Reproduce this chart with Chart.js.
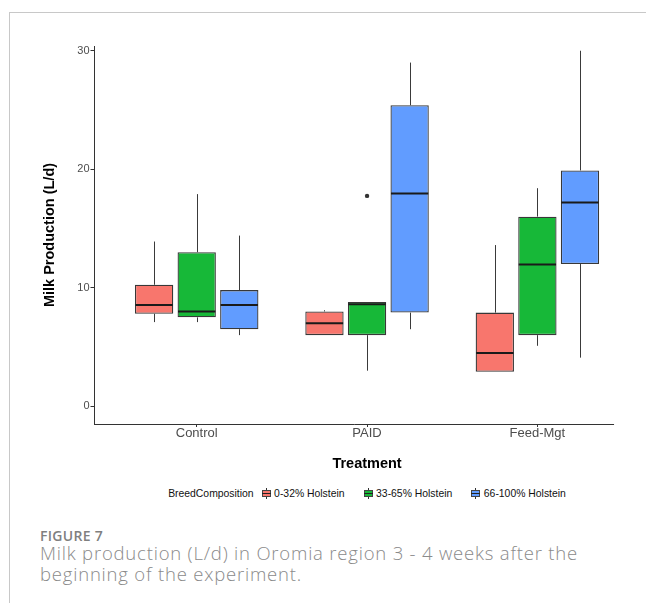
<!DOCTYPE html>
<html>
<head>
<meta charset="utf-8">
<script src="https://cdn.jsdelivr.net/npm/chart.js@4.4.1/dist/chart.umd.min.js"></script>
<style>
  body { margin: 0; background: #fff; }
  #wrap { position: relative; width: 646px; height: 603px; overflow: hidden; background: #fff; }
  #frame { position: absolute; left: 9px; top: 12px; width: 660px; height: 620px;
           border-top: 1px solid #c8c8c8; border-left: 1px solid #c8c8c8; }
  #chart { position: absolute; left: 0; top: 0; }
  #legend { position: absolute; left: 0; top: 486px; width: 734px; height: 14px;
            display: flex; justify-content: center; align-items: center;
            font: 10.4px "Liberation Sans", Arial, sans-serif; color: #111; white-space: nowrap; }
  #legend .ttl { margin-right: 8px; }
  #legend .key { position: relative; width: 9px; height: 11px; margin-right: 3.5px; }
  #legend .key .wh { position: absolute; left: 4px; top: 0; width: 1px; height: 11px; background: #333; }
  #legend .key .bx { position: absolute; left: 0; top: 2px; width: 9px; height: 7px; box-sizing: border-box;
                     border: 1px solid #444; }
  #legend .key .md { position: absolute; left: 0; top: 5px; width: 9px; height: 1px; background: #222; }
  #legend .lab { margin-right: 19px; }
  #legend .lab:last-child { margin-right: 0; }
  #fig { position: absolute; left: 40px; top: 529px; font: 600 14px/14px "Open Sans", sans-serif;
         color: #7f7f7f; letter-spacing: 0.3px; }
  #cap { position: absolute; left: 40px; top: 541.6px; font: 300 18.5px/21.5px "Open Sans", sans-serif;
         color: #8a8a8a; letter-spacing: 0.8px; white-space: nowrap; }
</style>
</head>
<body>
<div id="wrap">
  <div id="frame"></div>
  <canvas id="chart" width="646" height="480"></canvas>
  <div id="legend"></div>
  <div id="fig">FIGURE 7</div>
  <div id="cap">Milk production (L/d) in Oromia region 3 - 4 weeks after the<br>beginning of the experiment.</div>
</div>
<script>
const categories = ['Control', 'PAID', 'Feed-Mgt'];
const breeds = ['0-32% Holstein', '33-65% Holstein', '66-100% Holstein'];
const colors = ['#F8766D', '#17B838', '#619CFF'];

// boxplot stats, one row per breed, one value per treatment
const whiskerLow  = [[7.1, 6.0, 2.9], [7.1, 3.0, 5.1], [6.0, 6.5, 4.1]];
const lowerQuart  = [[7.8, 6.0, 2.9], [7.5, 6.0, 6.0], [6.5, 7.9, 12.0]];
const medians     = [[8.55, 7.0, 4.5], [8.0, 8.6, 11.95], [8.55, 17.95, 17.2]];
const upperQuart  = [[10.25, 8.0, 7.9], [13.0, 8.8, 16.0], [9.8, 25.4, 19.9]];
const whiskerHigh = [[13.9, 8.1, 13.6], [17.9, 8.8, 18.4], [14.4, 29.0, 30.0]];
const outlierValues = [[[], [], []], [[], [17.75], []], [[], [], []]];
const yTicks = [0, 10, 20, 30];

const xAxisEnd = 3.45; // original figure is cut off here

Chart.defaults.font.family = '"Liberation Sans", Arial, sans-serif';

// legend built from the same arrays
const legend = document.getElementById('legend');
legend.innerHTML = '<span class="ttl">BreedComposition</span>' + breeds.map((b, i) =>
  '<span class="key"><span class="wh"></span><span class="bx" style="background:' + colors[i] +
  '"></span><span class="md"></span></span><span class="lab">' + b + '</span>').join('');

const boxWhiskers = {
  id: 'boxWhiskers',
  afterDatasetsDraw(chart) {
    const ctx = chart.ctx;
    const x = chart.scales.x;
    const y = chart.scales.y;
    const area = chart.chartArea;
    ctx.save();
    ctx.strokeStyle = '#333';
    ctx.lineWidth = 1;
    const ay = Math.round(area.bottom) + 0.5;
    ctx.beginPath();
    ctx.moveTo(area.left, ay);
    ctx.lineTo(x.getPixelForValue(xAxisEnd), ay);
    ctx.stroke();

    chart.data.datasets.forEach((ds, i) => {
      const meta = chart.getDatasetMeta(i);
      meta.data.forEach((bar, j) => {
        const cx = Math.round(bar.x) + 0.5;
        const half = bar.width / 2;
        ctx.strokeStyle = '#3a3a3a';
        ctx.lineWidth = 1;
        ctx.beginPath();
        ctx.moveTo(cx, y.getPixelForValue(upperQuart[i][j]));
        ctx.lineTo(cx, y.getPixelForValue(whiskerHigh[i][j]));
        ctx.moveTo(cx, y.getPixelForValue(lowerQuart[i][j]));
        ctx.lineTo(cx, y.getPixelForValue(whiskerLow[i][j]));
        ctx.stroke();

        const my = y.getPixelForValue(medians[i][j]);
        ctx.strokeStyle = '#1a1a1a';
        ctx.lineWidth = 2;
        ctx.beginPath();
        ctx.moveTo(bar.x - half + 0.5, my);
        ctx.lineTo(bar.x + half - 0.5, my);
        ctx.stroke();

        outlierValues[i][j].forEach(v => {
          ctx.fillStyle = '#333';
          ctx.beginPath();
          ctx.arc(bar.x, y.getPixelForValue(v), 2.2, 0, Math.PI * 2);
          ctx.fill();
        });
      });
    });
    ctx.restore();
  }
};

new Chart(document.getElementById('chart'), {
  type: 'bar',
  data: {
    datasets: breeds.map((name, i) => ({
      label: name,
      data: categories.map((c, j) => ({ x: j + 1, y: [lowerQuart[i][j], upperQuart[i][j]] })),
      backgroundColor: colors[i],
      borderColor: '#383838',
      borderWidth: 1.3,
      borderSkipped: false,
      barPercentage: 0.9,
      categoryPercentage: 0.75
    }))
  },
  options: {
    responsive: false,
    animation: false,
    devicePixelRatio: 1,
    layout: { padding: { left: 0, top: 46, right: 6.4, bottom: 0 } },
    plugins: { legend: { display: false }, tooltip: { enabled: false } },
    scales: {
      x: {
        type: 'linear',
        min: 0.4,
        max: 3.6,
        offset: false,
        afterBuildTicks: s => { s.ticks = categories.map((c, i) => ({ value: i + 1 })); },
        afterFit: s => { s.height = 56; },
        ticks: {
          callback: v => categories[v - 1],
          font: { size: 13, lineHeight: 1 },
          color: '#4d4d4d',
          padding: 0,
          maxRotation: 0,
          autoSkip: false
        },
        grid: { offset: false, drawOnChartArea: false, drawTicks: true, tickLength: 3, color: '#333' },
        border: { display: false },
        title: {
          display: true,
          text: 'Treatment',
          color: '#000',
          font: { size: 14.5, weight: 'bold' },
          padding: { top: 0, bottom: 7.3 }
        }
      },
      y: {
        min: -1.5,
        max: 30.4,
        afterBuildTicks: s => { s.ticks = yTicks.map(v => ({ value: v })); },
        afterFit: s => { s.width = 94.5; },
        ticks: { font: { size: 11 }, color: '#4d4d4d', padding: 1 },
        grid: { drawOnChartArea: false, drawTicks: true, tickLength: 4, color: '#333' },
        border: { display: true, color: '#333', width: 1 },
        title: {
          display: true,
          text: 'Milk Production (L/d)',
          color: '#000',
          font: { size: 14.5, weight: 'bold' },
          padding: { top: 41.3, bottom: 0 }
        }
      }
    }
  },
  plugins: [boxWhiskers]
});
</script>
</body>
</html>
